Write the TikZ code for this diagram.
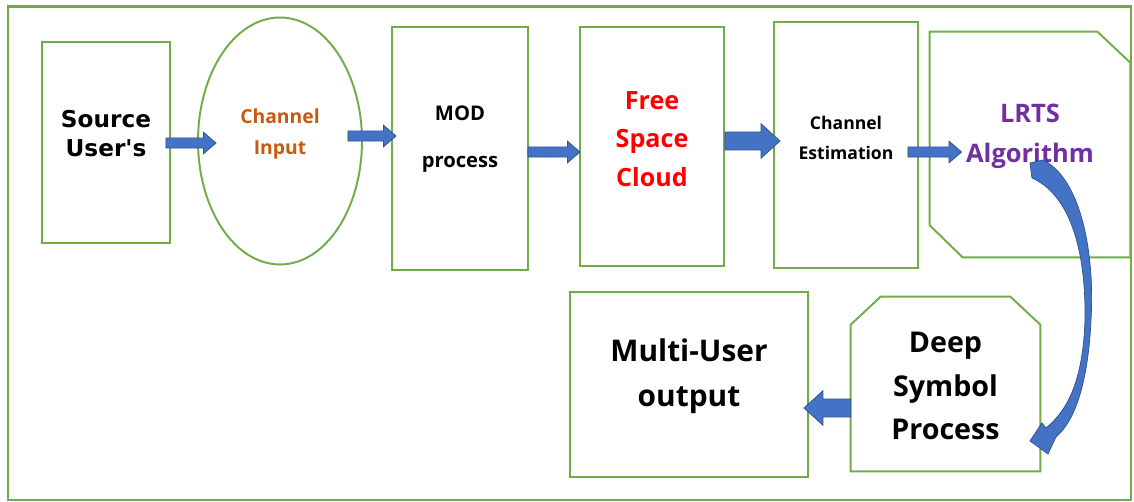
\documentclass[tikz,border=0pt]{standalone}
\usepackage{fontspec}
\setmainfont{Open Sans}
\newfontfamily\widesans{DejaVu Sans}
\usetikzlibrary{shapes.geometric,calc}

\definecolor{boxgreen}{HTML}{70AD47}
\definecolor{arrowblue}{HTML}{4472C4}
\definecolor{arrowedge}{HTML}{2F528F}
\definecolor{inputorange}{HTML}{C55A11}
\definecolor{algopurple}{HTML}{7030A0}

\begin{document}
\begin{tikzpicture}[x=0.02cm, y=-0.02cm,
      box/.style = {draw=boxgreen, line width=1.1pt, inner sep=0pt},
      frame/.style = {draw=boxgreen, line width=1.1pt, line join=miter},
      txt/.style = {align=center},
      % horizontal block arrow: half shaft, half head, head length
      flow/.style n args={3}{fill=arrowblue, draw=arrowedge, line width=0.4pt,
         to path={let \p1=(\tikztostart), \p2=(\tikztotarget),
            \n1={sign(\x2-\x1)} in
            (\x1,\y1+#1) -- (\x2-\n1*#3,\y1+#1) -- (\x2-\n1*#3,\y1+#2)
            -- (\x2,\y1) -- (\x2-\n1*#3,\y1-#2) -- (\x2-\n1*#3,\y1-#1)
            -- (\x1,\y1-#1) -- cycle}},
      smallflow/.style = {flow={2.9pt}{6.2pt}{7.2pt}},
      bigflow/.style = {flow={5.1pt}{9.8pt}{10.8pt}}
]
   \useasboundingbox[fill=white] (0,0) rectangle (1134,502);
   \draw[boxgreen, line width=1.7pt] (8,7) rectangle (1131,500);

   % top row
   \node[box, minimum width=2.56cm, minimum height=4.02cm] (src) at (106,142.5) {};
   \node[box, ellipse, minimum width=3.28cm, minimum height=4.94cm] (chin) at (280,141) {};
   \node[box, minimum width=2.72cm, minimum height=4.86cm] (mod) at (460,148.5) {};
   \node[box, minimum width=2.88cm, minimum height=4.78cm] (fsc) at (652,146.5) {};
   \node[box, minimum width=2.88cm, minimum height=4.92cm] (est) at (846,145) {};
   \node[inner sep=0pt, minimum width=4.0cm, minimum height=4.5cm] (lrts) at (1030,144.5) {};
   % cut corners top right and bottom left
   \draw[frame] (lrts.north west) -- ($(lrts.north east)+(-33,0)$)
      -- ($(lrts.north east)+(0,31)$) -- (lrts.south east)
      -- ($(lrts.south west)+(33,0)$) -- ($(lrts.south west)+(0,-32)$) -- cycle;

   % bottom row
   \node[box, minimum width=4.76cm, minimum height=3.7cm] (multi) at (689,384.5) {};
   \node[inner sep=0pt, minimum width=3.78cm, minimum height=3.48cm] (deep) at (945.5,384) {};
   % cut corners on top
   \draw[frame] ($(deep.north west)+(0,28)$) -- ($(deep.north west)+(30,0)$)
      -- ($(deep.north east)+(-30,0)$) -- ($(deep.north east)+(0,28)$)
      -- (deep.south east) -- (deep.south west) -- cycle;

   % labels
   \node[txt, font=\widesans\bfseries\fontsize{13.2}{16.5}\selectfont]
      (srcl) at ($(src)+(0,-9)$) {Source\\User\textquotesingle s};
   \node[txt, text=inputorange, font=\bfseries\fontsize{11}{17.6}\selectfont]
      (chinl) at ($(chin)+(0,-7)$) {Channel\\Input};
   \node[txt, font=\bfseries\fontsize{11.5}{26.7}\selectfont]
      (modl) at ($(mod)+(0,-9)$) {MOD\\process};
   \node[txt, text=red, font=\bfseries\fontsize{14.3}{21.9}\selectfont]
      (fscl) at ($(fsc)+(0,-7.5)$) {Free\\Space\\Cloud};
   \node[txt, font=\bfseries\fontsize{10}{17}\selectfont]
      (estl) at ($(est)+(0,-7)$) {Channel\\Estimation};
   \node[txt, text=algopurple, font=\bfseries\fontsize{14.5}{22.8}\selectfont]
      (lrtsl) at ($(lrts)+(0,-8.5)$) {LRTS\\Algorithm};
   \node[txt, font=\bfseries\fontsize{17}{25.6}\selectfont]
      (multil) at ($(multi)+(0,-8.5)$) {Multi-User\\output};
   \node[txt, font=\bfseries\fontsize{16.3}{24.8}\selectfont]
      (deepl) at ($(deep)+(0,2)$) {Deep\\Symbol\\Process};

   % block arrows between the stages
   \draw[smallflow] ($(src.east)+(-5,0.5)$) to ($(chin.west)+(19,0)$);
   \draw[smallflow] ($(chin.east)+(-15,-5)$) to ($(mod.west)+(5,0)$);
   \draw[smallflow] ($(mod.east)+(-1,3.5)$) to ($(fsc.west)+(1,0)$);
   \draw[bigflow] ($(fsc.east)+(0,-5.5)$) to ($(est.west)+(7,0)$);
   \draw[smallflow] ($(est.east)+(-11,7)$) to ($(lrts.west)+(32,0)$);
   \draw[bigflow] ($(deep.west)+(0,24)$) to ($(multi.east)+(-5,0)$);

   % curved arrow down to the deep symbol stage
   \draw[fill=arrowblue, draw=arrowedge, line width=0.4pt]
      (1030,163) -- (1043,160)
      .. controls (1080,178) and (1095,250) .. (1091,320)
      .. controls (1088,385) and (1074,422) .. (1056,437)
      -- (1048,454) -- (1030,441) -- (1042,423) -- (1046,428)
      .. controls (1068,410) and (1083,380) .. (1085,320)
      .. controls (1086,250) and (1070,195) .. (1032,178) -- cycle;
\end{tikzpicture}
\end{document}
